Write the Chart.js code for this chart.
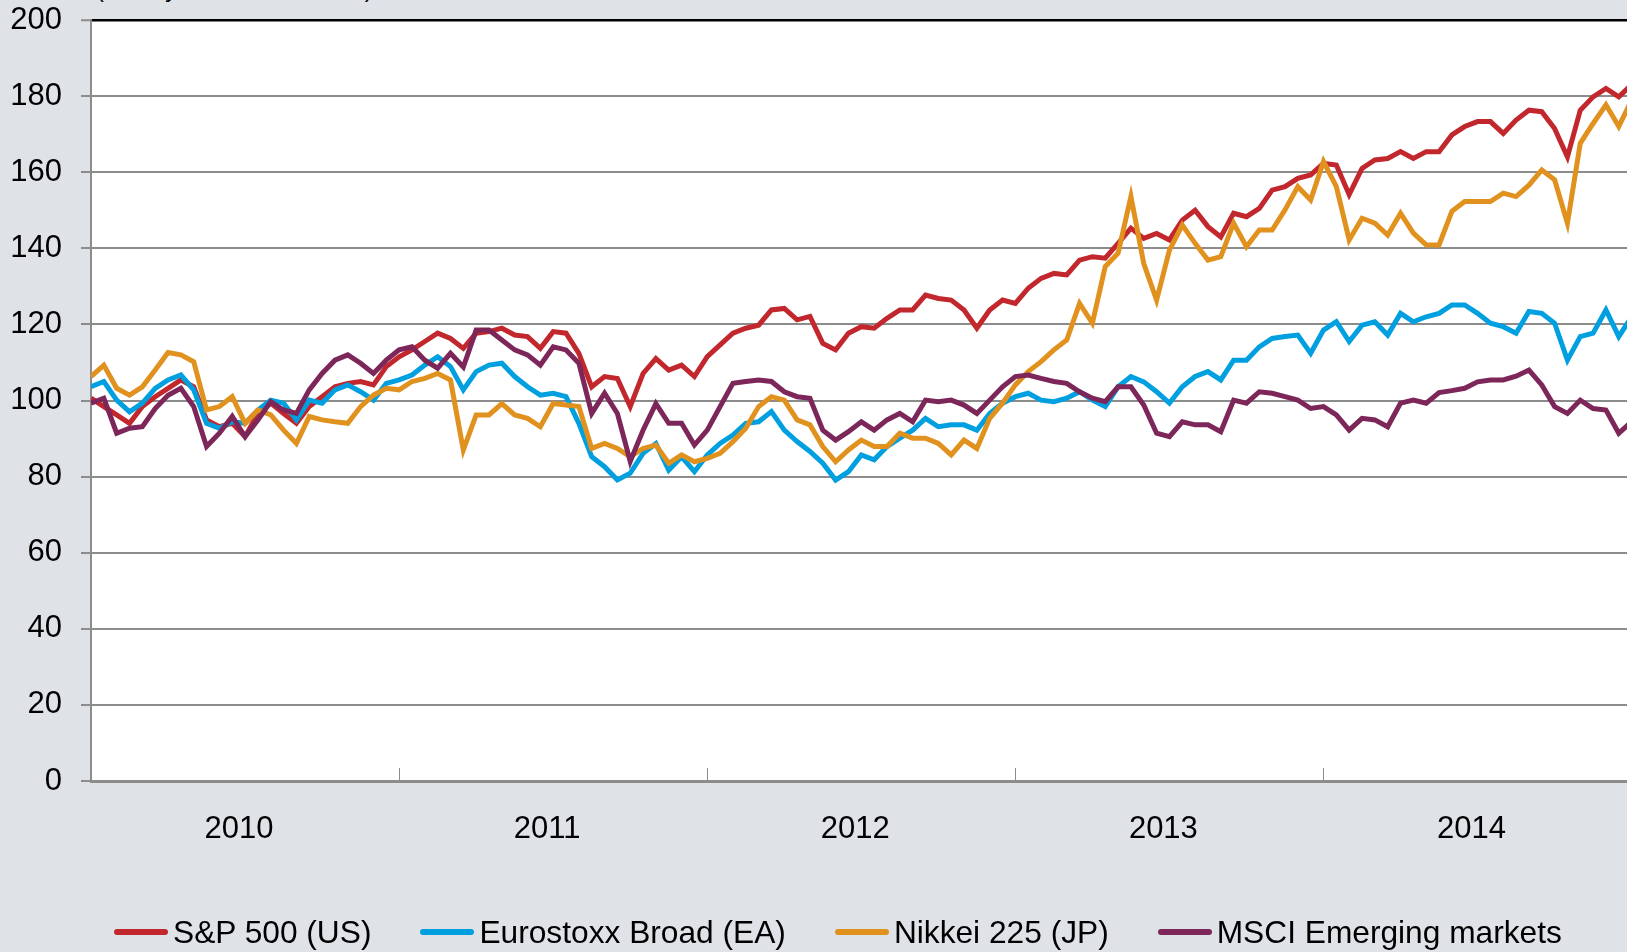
<!DOCTYPE html>
<html>
<head>
<meta charset="utf-8">
<title>Stock market indices</title>
<script src="https://cdn.jsdelivr.net/npm/chart.js@4.4.1/dist/chart.umd.min.js"></script>
<style>
    html, body { margin: 0; padding: 0; background: #dfe2e7; overflow: hidden; }
    body { width: 1627px; height: 952px; position: relative; font-family: "Liberation Sans", Arial, sans-serif; color: #000; }
    #chart { position: absolute; left: 0; top: 0; }
    #subtitle { position: absolute; left: 96px; top: -23px; font-size: 24px; line-height: 24px; white-space: nowrap; }
    #legend { position: absolute; left: 114px; top: 916px; display: flex; gap: 49px; font-size: 31.7px; line-height: 32px; white-space: nowrap; }
    .item { display: flex; align-items: center; }
    .swatch { width: 54px; height: 6px; margin-right: 5px; border-radius: 3px; }
</style>
</head>
<body>
<div id="subtitle">(weekly data, 2010 = 100)</div>
<canvas id="chart" width="1627" height="952"></canvas>
<div id="legend"></div>

<script>
// ---------- DATA ----------
// two readings per month, first one at the start of 2010
const startYear = 2010;
const pointsPerYear = 24;
const lastYear = 2014.985;
const yearLabels = ["2010", "2011", "2012", "2013", "2014"];

const seriesNames = ["S&P 500 (US)", "Eurostoxx Broad (EA)", "Nikkei 225 (JP)", "MSCI Emerging markets"];

const sp500 = [
    100.6, 98.4, 96.2, 94, 98.4, 101, 103.2, 105.4, 103.6, 94.9, 93.1, 94, 90.5, 96.6, 99.3, 96.6, 94, 98.4, 101, 103.6, 104.5, 105, 104.1, 108.9,
    111.5, 113.3, 115.5, 117.7, 116.3, 113.7, 117.7, 118.1, 119, 117.2, 116.8, 113.7, 118.1, 117.7, 112.4, 103.6, 106.3, 105.8, 98.4, 107.1, 111, 108, 109.3, 106.3,
    111.5, 114.6, 117.7, 119, 119.8, 123.8, 124.2, 121.2, 122.1, 115, 113.3, 117.7, 119.4, 119, 121.6, 123.8, 123.8, 127.7, 126.8, 126.4, 123.8, 119, 123.8, 126.4,
    125.5, 129.5, 132.1, 133.4, 133, 136.9, 137.8, 137.4, 141.3, 145.3, 142.6, 143.9, 142.2, 147.4, 150, 145.7, 143, 149.2, 148.3, 150.5, 155.3, 156.2, 158.4, 159.3,
    162.3, 161.9, 154.1, 161, 163.2, 163.6, 165.4, 163.6, 165.4, 165.4, 169.8, 172, 173.3, 173.3, 170.2, 173.7, 176.3, 175.9, 171.5, 164, 176.3, 179.8, 182, 179.8, 183
];

const eurostoxx = [
    103.6, 105, 100.1, 97, 99.3, 103.2, 105.4, 106.7, 102.8, 94, 92.7, 94.4, 94, 97.5, 100.1, 99.3, 94.9, 100.1, 99.3, 102.8, 104.1, 102.3, 100.1, 104.5,
    105.4, 106.7, 109.3, 111.5, 108.9, 102.8, 107.6, 109.3, 109.8, 106.3, 103.6, 101.4, 101.9, 101, 94, 85.2, 82.6, 79.1, 80.9, 86.1, 88.7, 81.7, 85.2, 81.3,
    85.7, 88.7, 90.9, 94, 94.4, 97.1, 92.2, 89.2, 86.6, 83.5, 79.1, 81.3, 85.7, 84.4, 87.9, 90.1, 92.2, 95.3, 93.1, 93.6, 93.6, 92.2, 96.6, 99.3,
    101, 101.9, 100.1, 99.7, 100.6, 102.3, 100.1, 98.4, 103.6, 106.3, 104.9, 102.3, 99.3, 103.6, 106.3, 107.6, 105.4, 110.6, 110.6, 114.1, 116.3, 116.8, 117.2, 112.4,
    118.5, 120.7, 115.5, 119.8, 120.7, 117.2, 122.9, 120.7, 122, 122.9, 125.1, 125.1, 122.9, 120.3, 119.4, 117.7, 123.4, 122.9, 120.3, 110.6, 116.8, 117.7, 123.8, 116.8, 122
];

const nikkei = [
    106.3, 109.3, 103.2, 101.4, 103.6, 108, 112.6, 112, 110.2, 97.5, 98.4, 101, 94, 97.5, 96.2, 92.2, 88.7, 95.8, 94.9, 94.4, 94, 98.4, 101.4, 103.2,
    102.8, 105, 105.8, 107.1, 105.4, 87, 96.2, 96.2, 99.2, 96.2, 95.3, 93.1, 99.2, 98.8, 98.4, 87.4, 88.7, 87.4, 85.2, 87.4, 88.3, 83.5, 85.7, 83.9,
    84.8, 86.1, 89.2, 92.7, 98.4, 101, 100.1, 94.9, 93.6, 87.9, 83.9, 87, 89.6, 87.9, 87.9, 91.4, 90.1, 90.1, 88.7, 85.7, 89.6, 87.4, 95.3, 99.3,
    104.1, 107.6, 110.2, 113.3, 115.9, 125.5, 120.3, 135.2, 138.7, 153.6, 136, 126.4, 139.5, 146.1, 141.3, 136.9, 137.8, 146.6, 140.4, 144.8, 144.8, 150.1, 156.2, 152.7,
    162.8, 156.2, 142.2, 147.9, 146.6, 143.5, 149.2, 144, 140.9, 140.9, 149.7, 152.3, 152.3, 152.3, 154.5, 153.6, 156.6, 160.6, 158, 146.6, 167.6, 172.8, 177.7, 172, 179
];

const msciEm = [
    99.3, 100.6, 91.4, 92.7, 93.1, 97.9, 101.4, 103.2, 98.4, 87.9, 91.4, 95.8, 90.5, 94.9, 99.7, 97.5, 96.6, 102.8, 107.1, 110.6, 112, 109.8, 107.1, 110.6,
    113.3, 114.1, 110.6, 108.5, 112.4, 108.8, 118.5, 118.5, 115.9, 113.3, 112, 109.3, 114.1, 113.3, 109.8, 96.6, 101.9, 96.6, 84, 92.2, 99.2, 94, 94, 88.3,
    92.2, 98.4, 104.5, 105, 105.4, 105, 102.3, 101, 100.6, 92.2, 89.6, 91.8, 94.4, 92.2, 94.9, 96.6, 94.4, 100.1, 99.7, 100.1, 98.8, 96.6, 100.1, 103.6,
    106.3, 106.7, 105.8, 105, 104.5, 102.3, 100.6, 99.7, 103.6, 103.6, 98.8, 91.4, 90.5, 94.4, 93.6, 93.6, 91.8, 100.1, 99.3, 102.3, 101.9, 101, 100.1, 97.9,
    98.4, 96.2, 92.2, 95.3, 94.9, 93.1, 99.3, 100.1, 99.3, 102.1, 102.6, 103.2, 104.9, 105.4, 105.4, 106.4, 108, 104.1, 98.4, 96.6, 100.1, 97.9, 97.5, 91.4, 94.4
];

// ---------- STYLE ----------
const lineColors = ["#c1272d", "#00a0e0", "#e0911e", "#7c2659"];
const gridGray = "#8c8c8c";

// ---------- HELPERS ----------
function toPoints(values) {
    return values.map((v, i) => ({ x: startYear + i / pointsPerYear, y: v }));
}

// white plot area + small year ticks pointing up from the axis
const plotDecor = {
    id: "plotDecor",
    beforeDraw(chart) {
        const { ctx, chartArea } = chart;
        ctx.save();
        ctx.fillStyle = "#ffffff";
        ctx.fillRect(chartArea.left, chartArea.top, chartArea.right - chartArea.left, chartArea.bottom - chartArea.top);
        ctx.restore();
    },
    afterDraw(chart) {
        const { ctx, chartArea, scales } = chart;
        ctx.save();
        ctx.strokeStyle = gridGray;
        ctx.lineWidth = 1;
        scales.x.ticks.forEach(t => {
            const px = Math.round(scales.x.getPixelForValue(t.value)) + 0.5;
            if (px <= chartArea.left + 2) return;
            ctx.beginPath();
            ctx.moveTo(px, chartArea.bottom - 13);
            ctx.lineTo(px, chartArea.bottom);
            ctx.stroke();
        });
        ctx.restore();
    }
};

// ---------- CHART ----------
const allSeries = [sp500, eurostoxx, nikkei, msciEm];

const datasets = allSeries.map((values, i) => ({
    label: seriesNames[i],
    data: toPoints(values),
    borderColor: lineColors[i],
    backgroundColor: lineColors[i],
    borderWidth: 5,
    pointRadius: 0,
    tension: 0,
    order: allSeries.length - i   // later series drawn on top
}));

const tickFont = { family: "'Liberation Sans', Arial, sans-serif", size: 31 };

new Chart(document.getElementById("chart"), {
    type: "line",
    data: { datasets },
    options: {
        responsive: false,
        animation: false,
        layout: { padding: { top: 20, right: 0, bottom: 0, left: 0 } },
        plugins: {
            legend: { display: false },
            tooltip: { enabled: false }
        },
        scales: {
            x: {
                type: "linear",
                min: startYear,
                max: lastYear,
                afterFit: scale => {
                    scale.height = 171;
                    scale.paddingLeft = 0;
                    scale.paddingRight = 0;
                },
                grid: { drawOnChartArea: false, drawTicks: false },
                border: { color: gridGray, width: 3 },
                ticks: {
                    stepSize: 1,
                    includeBounds: false,
                    autoSkip: false,
                    maxRotation: 0,
                    labelOffset: 148,
                    padding: 30,
                    color: "#000",
                    font: tickFont,
                    callback: value => yearLabels[value - startYear] || ""
                }
            },
            y: {
                min: 0,
                max: 200,
                afterFit: scale => {
                    scale.width = 91;
                    scale.paddingTop = 0;
                    scale.paddingBottom = 0;
                },
                grid: {
                    color: ctx => ctx.tick && ctx.tick.value === 200 ? "#000000" : gridGray,
                    lineWidth: ctx => ctx.tick && ctx.tick.value === 200 ? 2.5 : 2,
                    tickColor: gridGray,
                    tickWidth: 2,
                    tickLength: 10
                },
                border: { color: gridGray, width: 2 },
                ticks: {
                    stepSize: 20,
                    padding: 19,
                    color: "#000",
                    font: tickFont
                }
            }
        }
    },
    plugins: [plotDecor]
});

// ---------- LEGEND ----------
const legendBox = document.getElementById("legend");
seriesNames.forEach((name, i) => {
    const item = document.createElement("div");
    item.className = "item";
    item.innerHTML = `<span class="swatch" style="background:${lineColors[i]}"></span><span>${name.replace("&", "&amp;")}</span>`;
    legendBox.appendChild(item);
});
</script>
</body>
</html>
